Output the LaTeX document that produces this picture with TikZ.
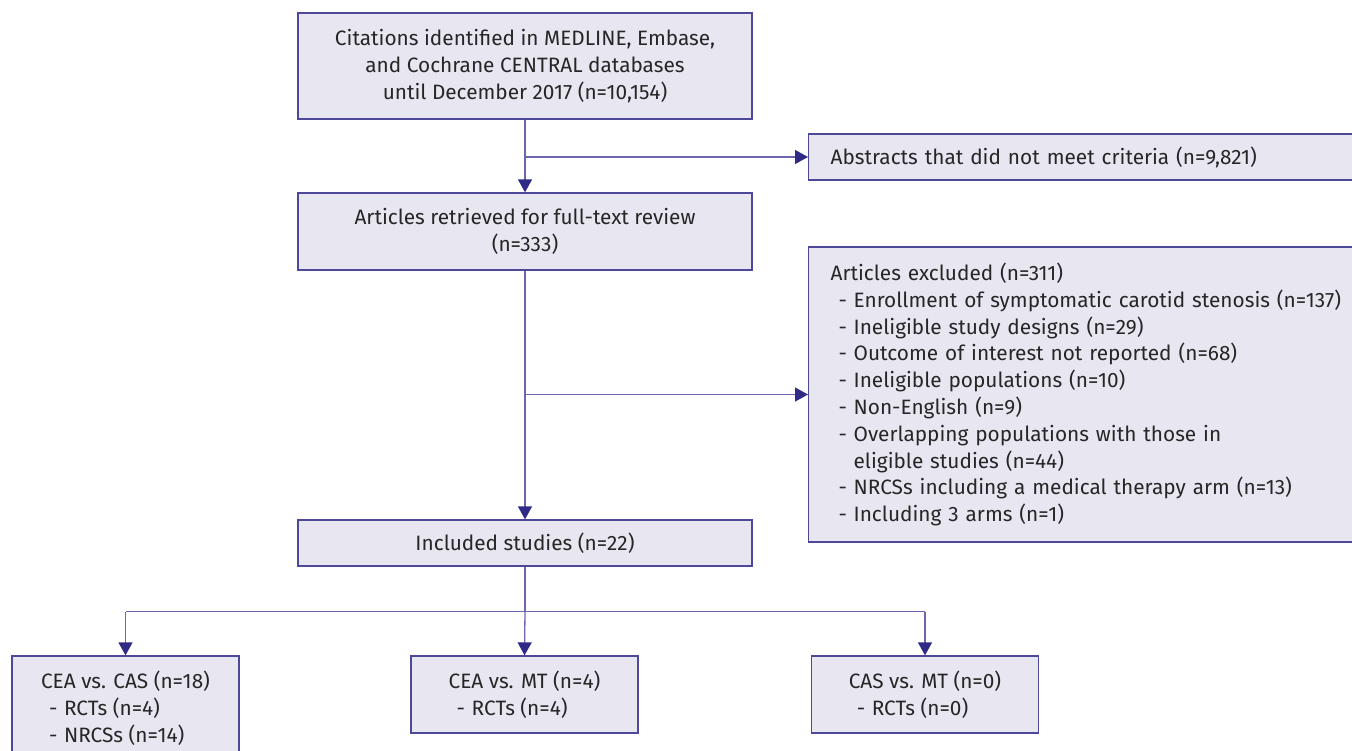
\documentclass[tikz,border=0pt]{standalone}
\usepackage{fontspec}
\setmainfont{Fira Sans}
\usetikzlibrary{arrows.meta}
\definecolor{boxfill}{HTML}{E8E7F1}
\definecolor{boxline}{HTML}{4E4899}
\definecolor{conline}{HTML}{6C66AC}
\definecolor{tipc}{HTML}{2F2A85}
\definecolor{txt}{HTML}{262626}
\newcommand\itm[1]{\hspace*{8pt}\makebox[15pt][l]{-}#1}
\begin{document}
\begin{tikzpicture}[x=1pt,y=-1pt,
  font=\fontsize{20.8}{26.8}\selectfont, text=txt,
  box/.style={draw=boxline, fill=boxfill, line width=1.3pt, inner sep=0pt, align=center},
  conn/.style={draw=conline, line width=1.3pt},
  arr/.style={conn, -{Triangle[length=13pt,width=14pt,color=tipc]}}]
\useasboundingbox (0,0) rectangle (1352,750);
\node[box, minimum width=454pt, minimum height=106pt] (b1) at (525,66)
  {Citations identified in MEDLINE, Embase,\\and Cochrane CENTRAL databases\\until December 2017 (n=10,154)};
\node[box, anchor=west, minimum width=560pt, minimum height=46pt, text width=516pt, align=left] (abs) at (808,157)
  {Abstracts that did not meet criteria (n=9,821)};
\node[box, minimum width=454pt, minimum height=77pt] (b2) at (525,231.5)
  {Articles retrieved for full-text review\\(n=333)};
\node[box, anchor=west, minimum width=560pt, minimum height=295pt, text width=516pt, align=left] (excl) at (808,394.5)
  {Articles excluded (n=311)\\
   \itm{Enrollment of symptomatic carotid stenosis (n=137)}\\
   \itm{Ineligible study designs (n=29)}\\
   \itm{Outcome of interest not reported (n=68)}\\
   \itm{Ineligible populations (n=10)}\\
   \itm{Non-English (n=9)}\\
   \itm{Overlapping populations with those in}\\
   \hspace*{23pt}eligible studies (n=44)\\
   \itm{NRCSs including a medical therapy arm (n=13)}\\
   \itm{Including 3 arms (n=1)}};
\node[box, minimum width=454pt, minimum height=46pt] (inc) at (525,543)
  {Included studies (n=22)};
\node[box, align=left, minimum width=227pt, minimum height=104pt] (c1) at (125.5,708)
  {CEA vs. CAS (n=18)\\\itm{RCTs (n=4)}\\\itm{NRCSs (n=14)}};
\node[box, align=left, minimum width=227pt, minimum height=77pt] (c2) at (524.5,694.5)
  {CEA vs. MT (n=4)\\\itm{RCTs (n=4)}};
\node[box, align=left, minimum width=227pt, minimum height=77pt] (c3) at (925,694.5)
  {CAS vs. MT (n=0)\\\itm{RCTs (n=0)}};
\draw[arr] (b1.south) -- (b2.north);
\draw[arr] (b1.south |- abs.west) -- (abs.west);
\draw[arr] (b2.south) -- (inc.north);
\draw[arr] (b2.south |- excl.west) -- (excl.west);
\draw[conn] (inc.south) -- ++(0,45) coordinate (split);
\draw[conn] (c1.north |- split) -- (c3.north |- split);
\draw[arr] (c1.north |- split) -- (c1.north);
\draw[arr] (split) -- (c2.north);
\draw[arr] (c3.north |- split) -- (c3.north);
\end{tikzpicture}
\end{document}
